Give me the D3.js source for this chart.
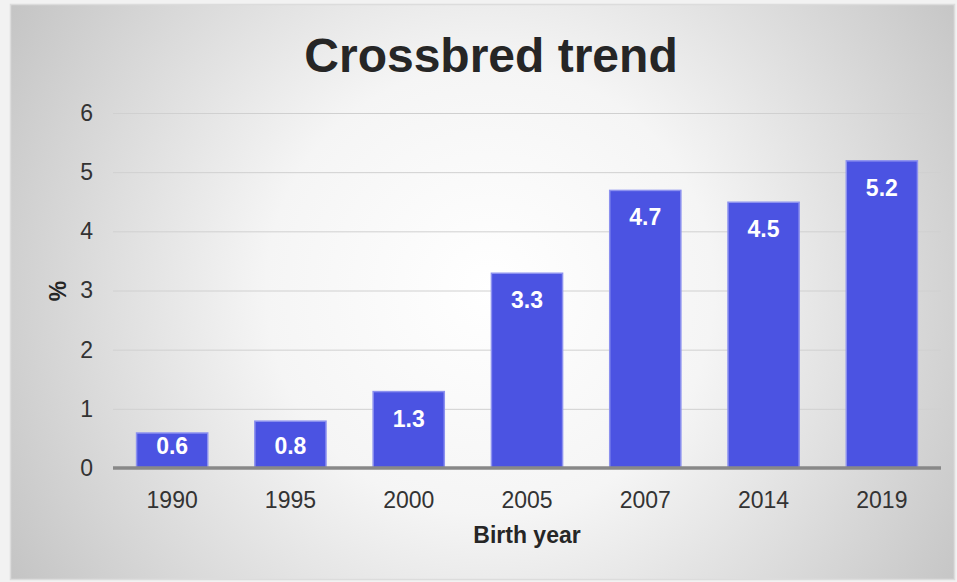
<!DOCTYPE html>
<html><head><meta charset="utf-8">
<script src="https://cdn.jsdelivr.net/npm/d3@7"></script>
<style>html,body{margin:0;padding:0;background:#fff;}svg{display:block;}</style>
</head><body>
<svg id="c" width="957" height="582"></svg>
<script>
const categories = ["1990","1995","2000","2005","2007","2014","2019"];
const values = [0.6, 0.8, 1.3, 3.3, 4.7, 4.5, 5.2];
const yTicks = [0,1,2,3,4,5,6];
const title = "Crossbred trend";
const xTitle = "Birth year";
const yTitle = "%";

(function(){
const FONT = "Liberation Sans, Arial, sans-serif";
const svg = d3.select("#c");
const W = 957, H = 582;
const defs = svg.append("defs");
const rg = defs.append("radialGradient").attr("id","bg")
  .attr("gradientUnits","userSpaceOnUse")
  .attr("cx",490).attr("cy",290).attr("r",560);
rg.append("stop").attr("offset","0").attr("stop-color","#ffffff");
rg.append("stop").attr("offset","0.4").attr("stop-color","#f5f5f5");
rg.append("stop").attr("offset","1").attr("stop-color","#c4c4c4");

svg.append("rect").attr("x",0).attr("y",0).attr("width",W).attr("height",H).attr("fill","#f2f2f2");
svg.append("rect").attr("x",10.5).attr("y",4.5).attr("width",944).attr("height",575)
  .attr("fill","url(#bg)").attr("stroke","#dcdcdc").attr("stroke-width",1.5);

const pLeft = 113, pRight = 941, pTop = 113, pBottom = 468;
const x = d3.scaleBand().domain(categories).range([pLeft,pRight]).paddingInner(0.39).paddingOuter(0.195);
const y = d3.scaleLinear().domain([0,6]).range([pBottom,pTop]);

svg.append("g").selectAll("line").data(yTicks.filter(d=>d>0)).join("line")
  .attr("x1",pLeft).attr("x2",pRight).attr("y1",d=>y(d)+0.5).attr("y2",d=>y(d)+0.5)
  .attr("stroke","#d0d0d0").attr("stroke-width",1);

const yAxis = d3.axisLeft(y).tickValues(yTicks).tickSize(0).tickPadding(0).tickFormat(d3.format("d"));
const gy = svg.append("g").attr("transform",`translate(${pLeft-20},0)`).call(yAxis);
gy.select(".domain").remove();
gy.selectAll("text").attr("font-family",FONT).attr("font-size",23).attr("fill","#333");

svg.append("g").selectAll("rect").data(values).join("rect")
  .attr("x",(d,i)=>x(categories[i])+0.5).attr("width",x.bandwidth()-1)
  .attr("y",d=>y(d)+0.5).attr("height",d=>y(0)-y(d)-0.5)
  .attr("fill","#4b53e2").attr("stroke","#8c91ef").attr("stroke-width",1.5);

svg.append("g").selectAll("text").data(values).join("text")
  .attr("x",(d,i)=>x(categories[i])+x.bandwidth()/2)
  .attr("y",d=>Math.min(y(d)+27.5, y(0)-22))
  .attr("text-anchor","middle").attr("dominant-baseline","central")
  .attr("font-family",FONT).attr("font-weight","bold").attr("font-size",23)
  .attr("fill","#fff").text(d=>d3.format(".1f")(d));

svg.append("line").attr("x1",pLeft).attr("x2",pRight).attr("y1",y(0)).attr("y2",y(0))
  .attr("stroke","#888").attr("stroke-width",3.5);

const xAxis = d3.axisBottom(x).tickSize(0).tickPadding(0);
const gx = svg.append("g").attr("transform",`translate(0,${pBottom})`).call(xAxis);
gx.select(".domain").remove();
gx.selectAll("text").attr("font-family",FONT).attr("font-size",23).attr("fill","#333")
  .attr("y",40).attr("dy",0);

svg.append("text").attr("x",491).attr("y",72).attr("text-anchor","middle")
  .attr("font-family",FONT).attr("font-weight","bold").attr("font-size",48)
  .attr("fill","#262626").text(title);
svg.append("text").attr("x",527).attr("y",543).attr("text-anchor","middle")
  .attr("font-family",FONT).attr("font-weight","bold").attr("font-size",23)
  .attr("fill","#262626").text(xTitle);
svg.append("text").attr("transform","translate(66,291) rotate(-90)").attr("text-anchor","middle")
  .attr("font-family",FONT).attr("font-weight","bold").attr("font-size",23)
  .attr("fill","#262626").text(yTitle);
})();
</script>
</body></html>
